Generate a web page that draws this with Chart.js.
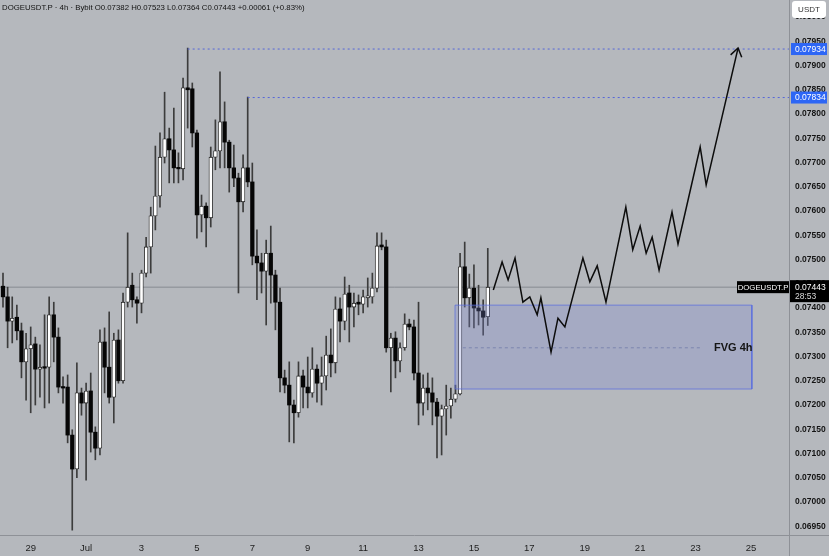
<!DOCTYPE html>
<html><head><meta charset="utf-8">
<script src="https://cdn.jsdelivr.net/npm/chart.js@4.4.0/dist/chart.umd.min.js"></script>
<style>html,body{margin:0;padding:0;background:#b5b8bd;}#wrap{width:829px;height:556px;position:relative}</style>
</head><body><div id="wrap"><canvas id="c" width="829" height="556"></canvas></div>
<script>
// ---- DATA (4h candles, index 0 = Jun 28 00:00) ----
const opens=[.07445,.07423,.07373,.07381,.07353,.07289,.07316,.07326,.07274,.07278,
.07278,.07386,.07340,.07237,.07237,.07138,.07068,.07225,.07204,.07229,
.07144,.07111,.07330,.07278,.07216,.07334,.07250,.07412,.07447,.07417,
.07410,.07472,.07526,.07590,.07631,.07711,.07749,.07726,.07689,.07687,
.07854,.07852,.07761,.07592,.07610,.07586,.07711,.07724,.07784,.07742,
.07689,.07668,.07619,.07689,.07660,.07507,.07493,.07476,.07513,.07468,
.07412,.07256,.07241,.07200,.07184,.07260,.07237,.07225,.07274,.07245,
.07260,.07303,.07287,.07398,.07373,.07431,.07402,.07412,.07408,.07421,
.07423,.07441,.07530,.07526,.07318,.07338,.07291,.07318,.07367,.07361,
.07266,.07204,.07235,.07225,.07206,.07177,.07192,.07198,.07212,.07223,
.07485,.07421,.07441,.07400,.07394,.07382];
const highs=[.07472,.07443,.07423,.07406,.07369,.07348,.07361,.07340,.07324,.07386,
.07423,.07412,.07359,.07258,.07262,.07149,.07287,.07235,.07245,.07266,
.07155,.07355,.07359,.07392,.07348,.07355,.07431,.07555,.07472,.07423,
.07478,.07546,.07608,.07734,.07761,.07845,.07771,.07812,.07720,.07874,
.07936,.07864,.07767,.07633,.07617,.07732,.07788,.07887,.07825,.07746,
.07736,.07678,.07716,.07835,.07699,.07561,.07513,.07540,.07569,.07478,
.07441,.07272,.07289,.07210,.07289,.07272,.07299,.07318,.07283,.07299,
.07342,.07357,.07423,.07421,.07464,.07447,.07431,.07427,.07437,.07462,
.07472,.07555,.07555,.07540,.07348,.07351,.07328,.07388,.07377,.07375,
.07412,.07262,.07266,.07256,.07214,.07200,.07241,.07235,.07241,.07513,
.07536,.07470,.07489,.07447,.07417,.07523];
const lows=[.07402,.07318,.07328,.07334,.07256,.07210,.07184,.07200,.07216,.07194,
.07204,.07289,.07225,.07204,.07122,.06942,.07050,.07179,.07045,.07103,
.07087,.07097,.07225,.07204,.07163,.07245,.07245,.07402,.07402,.07369,
.07390,.07464,.07472,.07561,.07608,.07699,.07658,.07658,.07658,.07664,
.07771,.07732,.07544,.07557,.07526,.07567,.07685,.07689,.07689,.07639,
.07650,.07431,.07598,.07650,.07489,.07417,.07431,.07365,.07410,.07355,
.07227,.07225,.07124,.07122,.07175,.07194,.07194,.07216,.07206,.07200,
.07231,.07258,.07266,.07330,.07355,.07330,.07361,.07386,.07390,.07402,
.07410,.07433,.07520,.07309,.07227,.07256,.07268,.07313,.07355,.07252,
.07159,.07179,.07190,.07159,.07091,.07097,.07138,.07173,.07206,.07221,
.07402,.07361,.07359,.07365,.07344,.07364];
const closes=[.07423,.07373,.07379,.07353,.07289,.07316,.07324,.07274,.07278,.07276,
.07386,.07340,.07237,.07235,.07138,.07068,.07225,.07204,.07229,.07144,
.07111,.07330,.07278,.07216,.07334,.07250,.07412,.07443,.07417,.07410,
.07472,.07526,.07590,.07631,.07711,.07749,.07726,.07689,.07687,.07854,
.07850,.07761,.07592,.07610,.07586,.07711,.07724,.07784,.07742,.07689,
.07668,.07619,.07689,.07660,.07507,.07493,.07476,.07513,.07468,.07412,
.07256,.07241,.07200,.07184,.07260,.07237,.07225,.07274,.07245,.07260,
.07303,.07287,.07398,.07373,.07429,.07402,.07410,.07408,.07423,.07425,
.07441,.07528,.07526,.07318,.07338,.07291,.07318,.07367,.07361,.07266,
.07204,.07235,.07225,.07206,.07177,.07192,.07198,.07212,.07223,.07485,
.07421,.07441,.07400,.07394,.07381,.07443];

const dateLabels=['29','Jul','3','5','7','9','11','13','15','17','19','21','23','25'];
const firstDateTick=6;      // candle index of Jun 29 00:00
const candlesPer2Days=12;
const priceTicks=[0.06950,0.07000,0.07050,0.07100,0.07150,0.07200,0.07250,0.07300,0.07350,0.07400,0.07450,0.07500,0.07550,0.07600,0.07650,0.07700,0.07750,0.07800,0.07850,0.07900,0.07950,0.08000];

const symbol='DOGEUSDT.P';
const headerText='DOGEUSDT.P · 4h · Bybit O0.07382 H0.07523 L0.07364 C0.07443 +0.00061 (+0.83%)';
const lastPrice=0.07443;
const countdown='28:53';
const levelPrices=[0.07934,0.07834];
const levelStarts=[40,53];

const fvgTop=0.07406, fvgBottom=0.07233, fvgMid=0.07318;
const fvgStart=97.9, fvgEnd=162.2, fvgMidStart=99.6, fvgMidEnd=151.0;
const fvgLabel='FVG 4h', fvgLabelX=154.0;

const projX=[106.2,108.1,109.4,110.9,112.6,114.1,115.7,116.5,118.7,120.2,121.7,125.6,127.1,128.7,130.6,134.9,136.4,138.0,139.3,140.6,142.1,144.9,146.2,151.0,152.3,159.2];
const projY=[0.07437,0.07495,0.07458,0.07503,0.07412,0.07423,0.07386,0.07421,0.07309,0.07379,0.07361,0.07503,0.07454,0.07487,0.07412,0.07608,0.07520,0.07569,0.07513,0.07546,0.07478,0.07598,0.07532,0.07732,0.07654,0.07936];
const arrowX=[157.6,159.2,160.0];
const arrowY=[0.07922,0.07936,0.07917];

const xMin=-0.65, xMax=170.24, yMin=0.069320, yMax=0.080351;
// ---------------------------------------------------

const BG='#b5b8bd';
Chart.defaults.font.family="'Liberation Sans', Arial, sans-serif";
const idx=opens.map((_,i)=>i);
const up=i=>closes[i]>=opens[i];
const pts=(xs,ys)=>xs.map((x,i)=>({x:x,y:ys[i]}));
const lineDs=(data,color,width,extra)=>Object.assign({type:'line',data:data,borderColor:color,borderWidth:width,pointRadius:0,fill:false,tension:0,order:0},extra||{});
const isMajor=c=>!!(c&&c.tick&&Math.round(c.tick.value*20000)%2===0);
const noPad=s=>{s.paddingTop=0;s.paddingBottom=0;s.paddingLeft=0;s.paddingRight=0;};

const datasets=[
  lineDs([{x:xMin,y:lastPrice},{x:xMax,y:lastPrice}],'#868a92',1,{order:10}),
  {type:'bar',data:idx.map(i=>({x:i,y:[lows[i],highs[i]]})),barThickness:1,backgroundColor:'#3c3c3c',borderWidth:0,grouped:false,order:6},
  {type:'bar',data:idx.map(i=>({x:i,y:[opens[i],closes[i]]})),barThickness:3.6,minBarLength:1.5,
   backgroundColor:c=>up(c.dataIndex)?'#ffffff':'#060606',borderColor:'#1a1a1a',
   borderWidth:c=>up(c.dataIndex)?0.8:0,borderSkipped:false,grouped:false,order:5},
  lineDs([{x:levelStarts[0],y:levelPrices[0]},{x:xMax,y:levelPrices[0]}],'#5566d8',1,{borderDash:[2,3],order:1}),
  lineDs([{x:levelStarts[1],y:levelPrices[1]},{x:xMax,y:levelPrices[1]}],'#5566d8',1,{borderDash:[2,3],order:1}),
  lineDs([{x:fvgStart,y:fvgTop},{x:fvgEnd,y:fvgTop}],'rgba(0,0,0,0)',0,{fill:'+1',backgroundColor:'rgba(125,138,212,0.28)',order:2}),
  lineDs([{x:fvgStart,y:fvgBottom},{x:fvgEnd,y:fvgBottom}],'rgba(0,0,0,0)',0,{order:2}),
  lineDs([{x:fvgStart,y:fvgBottom},{x:fvgStart,y:fvgTop},{x:fvgEnd,y:fvgTop},{x:fvgEnd,y:fvgBottom},{x:fvgStart,y:fvgBottom}],'rgba(85,105,225,0.7)',1,{order:1}),
  lineDs([{x:fvgMidStart,y:fvgMid},{x:fvgMidEnd,y:fvgMid}],'rgba(105,115,165,0.7)',1,{borderDash:[3,3],order:1}),
  lineDs(pts(projX,projY),'#0c0c0c',1.5,{order:0}),
  lineDs(pts(arrowX,arrowY),'#0c0c0c',1.5,{order:0})
];

const bgPlugin={id:'bg',beforeDraw(ch){const c=ch.ctx;c.save();c.fillStyle=BG;c.fillRect(0,0,ch.width,ch.height);c.restore();}};

function tag(c,x0,x1,yc,h,bg){c.fillStyle=bg;c.fillRect(x0,yc-h/2,x1-x0,h);}

const overlay={id:'overlay',afterDraw(ch){
  const c=ch.ctx, x=ch.scales.x, y=ch.scales.y, a=ch.chartArea;
  c.save();
  c.strokeStyle='#8e9197';c.lineWidth=1;
  c.beginPath();c.moveTo(0,a.bottom+0.5);c.lineTo(ch.width,a.bottom+0.5);c.stroke();
  c.beginPath();c.moveTo(a.right+0.5,0);c.lineTo(a.right+0.5,ch.height);c.stroke();
  c.font="7.8px 'Liberation Sans', Arial, sans-serif";c.fillStyle='#121212';c.textBaseline='middle';c.textAlign='left';
  c.fillText(headerText,2,8);
  c.font="bold 11px 'Liberation Sans', Arial, sans-serif";c.fillStyle='#151515';
  c.fillText(fvgLabel,x.getPixelForValue(fvgLabelX),y.getPixelForValue(fvgMid)+0.5);
  c.font="8.5px 'Liberation Sans', Arial, sans-serif";
  levelPrices.forEach(p=>{const py=y.getPixelForValue(p);tag(c,a.right+2,ch.width-2,py,12,'#2d66f5');
    c.fillStyle='#ffffff';c.textAlign='left';c.fillText(p.toFixed(5),a.right+6,py+0.5);});
  const lp=y.getPixelForValue(lastPrice);
  c.fillStyle='#000000';c.fillRect(a.right-52,lp-6,52,12);
  c.fillRect(a.right+1,lp-7,ch.width-a.right-1,22);
  c.fillStyle='#ffffff';c.font="7.8px 'Liberation Sans', Arial, sans-serif";c.textAlign='center';
  c.fillText(symbol,a.right-26,lp+0.5);
  c.font="8.5px 'Liberation Sans', Arial, sans-serif";c.textAlign='left';
  c.fillText(lastPrice.toFixed(5),a.right+6,lp+0.5);
  c.fillStyle='#d8d8d8';c.fillText(countdown,a.right+6,lp+9.5);
  c.fillStyle='#ffffff';c.beginPath();
  if(c.roundRect){c.roundRect(a.right+3,1,ch.width-a.right-6,17,3);}else{c.rect(a.right+3,1,ch.width-a.right-6,17);}
  c.fill();
  c.fillStyle='#333';c.font="8px 'Liberation Sans', Arial, sans-serif";c.textAlign='center';
  c.fillText('USDT',(a.right+ch.width)/2,9.5);
  c.restore();
}};

new Chart(document.getElementById('c'),{
  type:'bar',
  data:{datasets:datasets},
  plugins:[bgPlugin,overlay],
  options:{
    responsive:false,animation:false,events:[],
    layout:{padding:0},
    plugins:{legend:{display:false},tooltip:{enabled:false}},
    scales:{
      x:{type:'linear',min:xMin,max:xMax,offset:false,
        grid:{display:false,drawTicks:false},border:{display:false},
        afterBuildTicks:s=>{s.ticks=dateLabels.map((l,k)=>({value:firstDateTick+k*candlesPer2Days}));},
        ticks:{autoSkip:false,maxRotation:0,padding:8,color:'#1e1e1e',font:{size:9.5},callback:(v,k)=>dateLabels[k]},
        afterFit:s=>{s.height=21;noPad(s);}},
      y:{type:'linear',position:'right',min:yMin,max:yMax,
        grid:{display:false,drawTicks:false},border:{display:false},
        afterBuildTicks:s=>{s.ticks=priceTicks.map(v=>({value:v}));},
        ticks:{autoSkip:false,padding:6,
          color:c=>isMajor(c)?'#141414':'#3a3a3a',
          font:c=>({size:8.5,weight:isMajor(c)?'bold':'normal'}),
          callback:v=>v.toFixed(5)},
        afterFit:s=>{s.width=40;noPad(s);}}
    }
  }
});
</script></body></html>
